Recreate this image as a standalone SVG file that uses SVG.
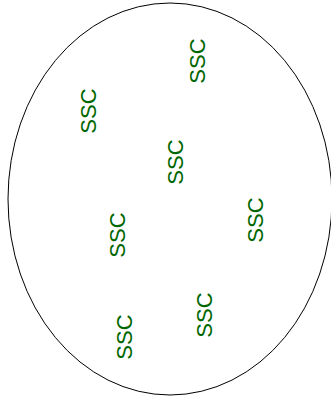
<svg xmlns="http://www.w3.org/2000/svg" width="331" height="400" viewBox="0 0 331 400">
<style>
.lbl{font-family:"Liberation Sans",Arial,sans-serif;font-size:22px;fill:#006600;text-anchor:middle}
</style>
<rect width="331" height="400" fill="#fff"/>
<g id="cell"><ellipse cx="170" cy="199" rx="162" ry="196" fill="none" stroke="#000" stroke-width="1"/></g>
<g id="ssc1" transform="translate(197,61) rotate(-90)"><text class="lbl" x="0" y="8">SSC</text></g>
<g id="ssc2" transform="translate(88,111) rotate(-90)"><text class="lbl" x="0" y="8">SSC</text></g>
<g id="ssc3" transform="translate(175,162) rotate(-90)"><text class="lbl" x="0" y="8">SSC</text></g>
<g id="ssc4" transform="translate(117,235) rotate(-90)"><text class="lbl" x="0" y="8">SSC</text></g>
<g id="ssc5" transform="translate(255,220) rotate(-90)"><text class="lbl" x="0" y="8">SSC</text></g>
<g id="ssc6" transform="translate(204,315) rotate(-90)"><text class="lbl" x="0" y="8">SSC</text></g>
<g id="ssc7" transform="translate(124,337) rotate(-90)"><text class="lbl" x="0" y="8">SSC</text></g>
<g id="connectors"></g>
</svg>
